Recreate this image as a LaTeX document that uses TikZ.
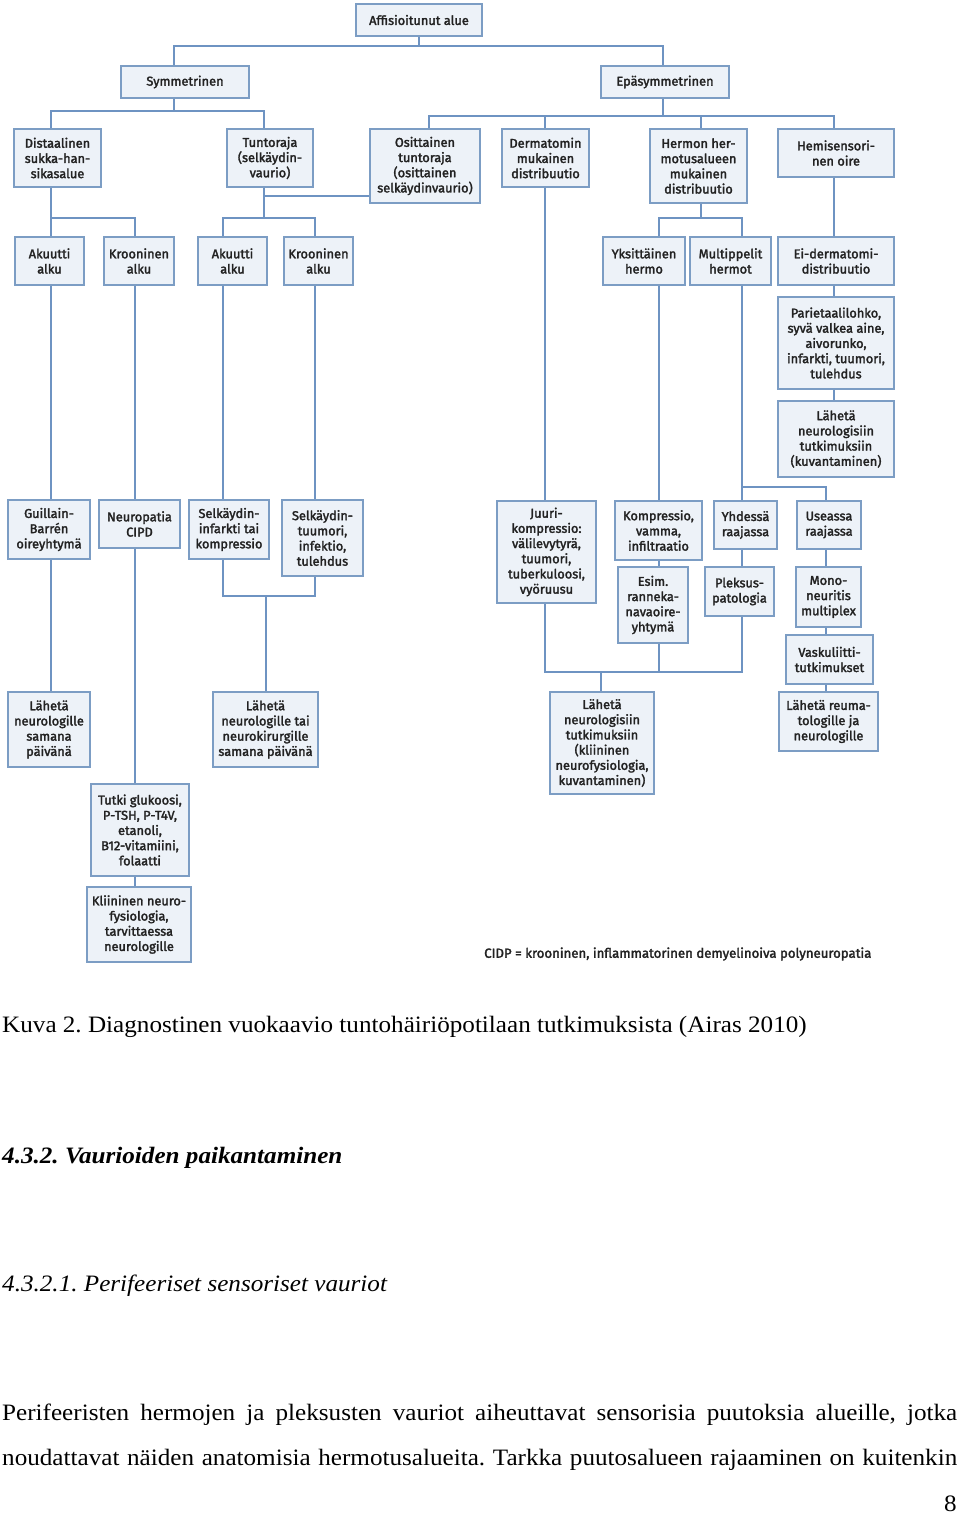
\documentclass[tikz,border=0pt]{standalone}
\usepackage{fontspec}
\newfontfamily\dfont{Fira Sans}[FakeBold=2.2]
\newfontfamily\tfont{Liberation Serif}[FakeStretch=1.07]
\definecolor{linec}{HTML}{6E93C2}
\definecolor{borderc}{HTML}{7C9DC4}
\definecolor{fillc}{HTML}{EDF2F8}
\definecolor{textc}{HTML}{222222}
\tikzset{
  fbox/.style={draw=borderc, fill=fillc, line width=1.1pt, inner sep=0pt, align=center,
    text=textc, font=\dfont\fontsize{12.8}{15.2}\selectfont},
  conn/.style={draw=linec, line width=1.3pt},
  serif/.style={inner sep=0pt, text=black, anchor=base west}
}
\newcommand\bx[6]{\node[fbox, minimum width={(#4-#2)*1pt}, minimum height={(#5-#3)*1pt}] (#1) at ({(#2+#4)/2},{(#3+#5)/2}) {#6};}
\begin{document}
\frenchspacing
\begin{tikzpicture}[x=1pt,y=-1pt]
\path[use as bounding box, fill=white] (0,0) rectangle (960,1515);
% ---- boxes ----
\bx{affis}{356}{4}{482}{36}{Affisioitunut alue}
\bx{sym}{121}{66}{249}{98}{Symmetrinen}
\bx{epa}{601}{66}{729}{98}{Epäsymmetrinen}
\bx{dist}{14}{129}{101}{187}{Distaalinen\\sukka-han-\\sikasalue}
\bx{tunt}{227}{129}{313}{187}{Tuntoraja\\(selkäydin-\\vaurio)}
\bx{osit}{370}{129}{480}{203}{Osittainen\\tuntoraja\\(osittainen\\selkäydinvaurio)}
\bx{derm}{502}{129}{589}{187}{Dermatomin\\mukainen\\distribuutio}
\bx{herm}{650}{129}{747}{203}{Hermon her-\\motusalueen\\mukainen\\distribuutio}
\bx{hemi}{778}{129}{894}{177}{Hemisensori-\\nen oire}
\bx{akut1}{15}{237}{84}{285}{Akuutti\\alku}
\bx{kroo1}{104}{237}{174}{285}{Krooninen\\alku}
\bx{akut2}{198}{237}{267}{285}{Akuutti\\alku}
\bx{kroo2}{284}{237}{353}{285}{Krooninen\\alku}
\bx{yksi}{603}{237}{685}{285}{Yksittäinen\\hermo}
\bx{mult}{690}{237}{771}{285}{Multippelit\\hermot}
\bx{eider}{778}{237}{894}{285}{Ei-dermatomi-\\distribuutio}
\bx{pariet}{778}{297}{894}{389}{Parietaalilohko,\\syvä valkea aine,\\aivorunko,\\infarkti, tuumori,\\tulehdus}
\bx{lahet1}{778}{401}{894}{477}{Lähetä\\neurologisiin\\tutkimuksiin\\(kuvantaminen)}
\bx{guil}{8}{500}{90}{559}{Guillain-\\Barrén\\oireyhtymä}
\bx{neuro}{99}{500}{180}{548}{Neuropatia\\CIPD}
\bx{selk1}{189}{500}{269}{559}{Selkäydin-\\infarkti tai\\kompressio}
\bx{selk2}{282}{500}{363}{576}{Selkäydin-\\tuumori,\\infektio,\\tulehdus}
\bx{juuri}{497}{501}{596}{603}{Juuri-\\kompressio:\\välilevytyrä,\\tuumori,\\tuberkuloosi,\\vyöruusu}
\bx{komp}{615}{501}{702}{560}{Kompressio,\\vamma,\\infiltraatio}
\bx{yhd}{714}{501}{777}{549}{Yhdessä\\raajassa}
\bx{use}{797}{501}{861}{549}{Useassa\\raajassa}
\bx{esim}{618}{567}{688}{643}{Esim.\\ranneka-\\navaoire-\\yhtymä}
\bx{pleks}{705}{567}{774}{616}{Pleksus-\\patologia}
\bx{mono}{796}{567}{861}{627}{Mono-\\neuritis\\multiplex}
\bx{vask}{786}{635}{873}{684}{Vaskuliitti-\\tutkimukset}
\bx{lahneu1}{8}{692}{90}{767}{Lähetä\\neurologille\\samana\\päivänä}
\bx{lahneu2}{213}{692}{318}{767}{Lähetä\\neurologille tai\\neurokirurgille\\samana päivänä}
\bx{lahnt}{550}{692}{654}{794}{Lähetä\\neurologisiin\\tutkimuksiin\\(kliininen\\neurofysiologia,\\kuvantaminen)}
\bx{lahreu}{779}{692}{878}{751}{Lähetä reuma-\\tologille ja\\neurologille}
\bx{tutki}{91}{784}{189}{876}{Tutki glukoosi,\\P-TSH, P-T4V,\\etanoli,\\B12-vitamiini,\\folaatti}
\bx{klin}{87}{887}{191}{962}{Kliininen neuro-\\fysiologia,\\tarvittaessa\\neurologille}
\node[anchor=west, inner sep=0pt, text=textc, font=\dfont\fontsize{13.2}{15}\selectfont] (note) at (484,954) {CIDP = krooninen, inflammatorinen demyelinoiva polyneuropatia};
% ---- connectors ----
\coordinate (a1) at (174,46); \coordinate (a2) at (663,46);
\draw[conn] (affis.south) -- (affis.south |- a1);
\draw[conn] (a1 |- sym.north) -- (a1) -- (a2) -- (a2 |- epa.north);
\coordinate (s0) at (174,111); \coordinate (s1) at (51,111); \coordinate (s2) at (264,111);
\draw[conn] (s0 |- sym.south) -- (s0);
\draw[conn] (s1 |- dist.north) -- (s1) -- (s2) -- (s2 |- tunt.north);
\coordinate (e0) at (663,116); \coordinate (e1) at (429,116); \coordinate (e2) at (545,116);
\coordinate (e3) at (701,116); \coordinate (e4) at (834,116);
\draw[conn] (e0 |- epa.south) -- (e0);
\draw[conn] (e1 |- osit.north) -- (e1) -- (e4) -- (e4 |- hemi.north);
\draw[conn] (e2) -- (e2 |- derm.north);
\draw[conn] (e3) -- (e3 |- herm.north);
% symmetrical subtree
\coordinate (d1) at (51,218); \coordinate (d2) at (135,218);
\draw[conn] (d1 |- dist.south) -- (d1) -- (d2) -- (d2 |- kroo1.north);
\draw[conn] (d1) -- (d1 |- akut1.north);
\coordinate (t0) at (264,218); \coordinate (t1) at (223,218); \coordinate (t2) at (315,218);
\coordinate (t3) at (264,196);
\draw[conn] (t0 |- tunt.south) -- (t0);
\draw[conn] (t3) -- (t3 -| osit.west);
\draw[conn] (t1 |- akut2.north) -- (t1) -- (t2) -- (t2 |- kroo2.north);
\draw[conn] (d1 |- akut1.south) -- (d1 |- guil.north);
\draw[conn] (d1 |- guil.south) -- (d1 |- lahneu1.north);
\draw[conn] (d2 |- kroo1.south) -- (d2 |- neuro.north);
\draw[conn] (d2 |- neuro.south) -- (d2 |- tutki.north);
\draw[conn] (d2 |- tutki.south) -- (d2 |- klin.north);
\draw[conn] (t1 |- akut2.south) -- (t1 |- selk1.north);
\draw[conn] (t2 |- kroo2.south) -- (t2 |- selk2.north);
\coordinate (u1) at (223,596); \coordinate (u2) at (315,596); \coordinate (u0) at (266,596);
\draw[conn] (u1 |- selk1.south) -- (u1) -- (u2) -- (u2 |- selk2.south);
\draw[conn] (u0) -- (u0 |- lahneu2.north);
% asymmetrical subtree
\coordinate (h0) at (701,218); \coordinate (h1) at (659,218); \coordinate (h2) at (742,218);
\draw[conn] (h0 |- herm.south) -- (h0);
\draw[conn] (h1 |- yksi.north) -- (h1) -- (h2) -- (h2 |- mult.north);
\coordinate (m0) at (742,487); \coordinate (m1) at (826,487);
\draw[conn] (m0 |- mult.south) -- (m0 |- yhd.north);
\draw[conn] (m0) -- (m1) -- (m1 |- use.north);
\draw[conn] (e4 |- hemi.south) -- (e4 |- eider.north);
\draw[conn] (e4 |- eider.south) -- (e4 |- pariet.north);
\draw[conn] (e4 |- pariet.south) -- (e4 |- lahet1.north);
\draw[conn] (e2 |- derm.south) -- (e2 |- juuri.north);
\draw[conn] (h1 |- yksi.south) -- (h1 |- komp.north);
\draw[conn] (h1 |- komp.south) -- (h1 |- esim.north);
\draw[conn] (m0 |- yhd.south) -- (m0 |- pleks.north);
\draw[conn] (m1 |- use.south) -- (m1 |- mono.north);
\draw[conn] (m1 |- mono.south) -- (m1 |- vask.north);
\draw[conn] (m1 |- vask.south) -- (m1 |- lahreu.north);
\coordinate (b1) at (545,672); \coordinate (b2) at (659,672); \coordinate (b3) at (742,672); \coordinate (b0) at (601,672);
\draw[conn] (b1 |- juuri.south) -- (b1) -- (b3) -- (b3 |- pleks.south);
\draw[conn] (b2 |- esim.south) -- (b2);
\draw[conn] (b0) -- (b0 |- lahnt.north);
% ---- page text ----
\node[serif, font=\tfont\fontsize{23.5}{28}\selectfont] (cap) at (2,1032) {Kuva 2. Diagnostinen vuokaavio tuntohäiriöpotilaan tutkimuksista (Airas 2010)};
\node[serif, font=\tfont\bfseries\itshape\fontsize{23.5}{28}\selectfont] (h1) at (2,1163) {4.3.2. Vaurioiden paikantaminen};
\node[serif, font=\tfont\itshape\fontsize{23.5}{28}\selectfont] (h2) at (2,1291) {4.3.2.1. Perifeeriset sensoriset vauriot};
\node[serif, font=\tfont\fontsize{23.5}{28}\selectfont] (p1) at (2,1420) {\makebox[955pt][s]{Perifeeristen hermojen ja pleksusten vauriot aiheuttavat sensorisia puutoksia alueille, jotka}};
\node[serif, font=\tfont\fontsize{23.5}{28}\selectfont] (p2) at (2,1465) {\makebox[955pt][s]{noudattavat näiden anatomisia hermotusalueita. Tarkka puutosalueen rajaaminen on kuitenkin}};
\node[inner sep=0pt, anchor=base east, font=\tfont\fontsize{23.5}{28}\selectfont] (pg) at (957,1511) {8};
\end{tikzpicture}
\end{document}
